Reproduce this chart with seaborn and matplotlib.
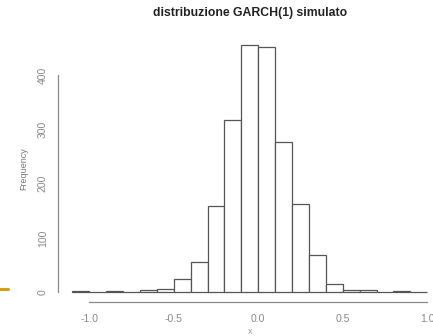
import numpy as np
import pandas as pd
import matplotlib
matplotlib.use("Agg")
import matplotlib.pyplot as plt
from matplotlib.lines import Line2D
import seaborn as sns

# histogram bins (width 0.1) and counts
bin_edges = [-1.1, -1.0, -0.9, -0.8, -0.7, -0.6, -0.5, -0.4, -0.3, -0.2, -0.1,
             0.0, 0.1, 0.2, 0.3, 0.4, 0.5, 0.6, 0.7, 0.8, 0.9, 1.0]
counts = [2, 0, 2, 0, 4, 6, 25, 56, 159, 318, 455, 451, 276, 163, 68, 15, 4, 4, 0, 2, 0]
x_ticks = [-1.0, -0.5, 0.0, 0.5, 1.0]
y_ticks = [0, 100, 200, 300, 400]

edges = np.array(bin_edges)
centers = (edges[:-1] + edges[1:]) / 2
df = pd.DataFrame({"x": centers, "count": counts})

sns.set_style("white")
plt.rcParams["font.family"] = ["Liberation Sans", "DejaVu Sans"]

fig = plt.figure(figsize=(4.33, 3.36), dpi=100)
ax = fig.add_axes([0.1344, 0.1006, 0.885, 0.794])

sns.histplot(data=df, x="x", weights="count", bins=bin_edges,
             color="white", edgecolor="#555555", linewidth=0.9, alpha=1, ax=ax)

ax.set_xlim(-1.184, 1.084)
ax.set_ylim(-18.2, 473.2)

for s in ["top", "right"]:
    ax.spines[s].set_visible(False)
for s in ["left", "bottom"]:
    ax.spines[s].set_color("#8a8a8a")
    ax.spines[s].set_linewidth(0.9)
ax.spines["left"].set_bounds(0, 400)
ax.spines["bottom"].set_bounds(-1, 1)

ax.set_xticks(x_ticks)
ax.set_xticklabels([f"{v:.1f}" for v in x_ticks])
ax.set_yticks(y_ticks)
ax.set_yticklabels([str(v) for v in y_ticks], rotation=90, va="center")
ax.tick_params(axis="both", direction="out", length=3.5, width=0.8,
               color="#8a8a8a", labelcolor="#888888", labelsize=7.5, pad=4)
ax.tick_params(axis="x", pad=5)

ax.set_xlabel("x", fontsize=6.5, color="#999999", labelpad=2)
ax.set_ylabel("Frequency", fontsize=6.5, color="#777777", labelpad=7)
fig.text(0.577, 0.962, "distribuzione GARCH(1) simulato", ha="center", va="center",
         fontsize=8.8, fontweight="bold", color="#222222")

# small orange marker at the left edge
fig.add_artist(Line2D([0.0, 0.019], [0.139, 0.139], color="#d4a017", linewidth=2.2))

fig.savefig("out.png", dpi=100)
plt.close(fig)
